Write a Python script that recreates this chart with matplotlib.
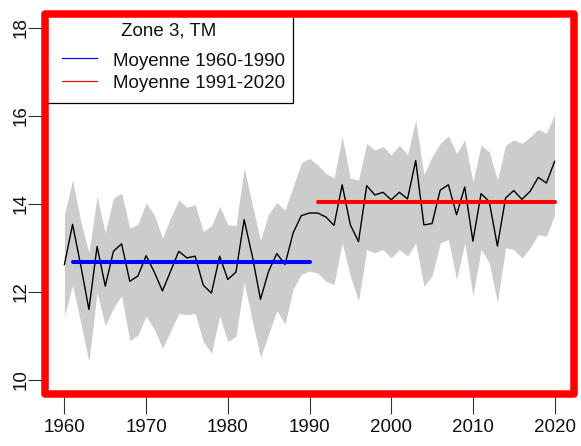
import matplotlib
matplotlib.use("Agg")
import matplotlib.pyplot as plt
from matplotlib.patches import Rectangle
from matplotlib.lines import Line2D
import numpy as np

plt.rcParams['font.family'] = ['Liberation Sans', 'DejaVu Sans']

years = list(range(1960, 2021))
tm = [12.62, 13.53, 12.60, 11.60, 13.03, 12.13, 12.92, 13.09, 12.24, 12.36,
      12.82, 12.45, 12.02, 12.47, 12.92, 12.77, 12.81, 12.15, 11.97, 12.81,
      12.28, 12.45, 13.64, 12.81, 11.83, 12.47, 12.87, 12.62, 13.34, 13.73,
      13.79, 13.79, 13.70, 13.51, 14.43, 13.52, 13.14, 14.41, 14.20, 14.26,
      14.09, 14.26, 14.11, 14.98, 13.52, 13.55, 14.31, 14.43, 13.75, 14.38,
      13.15, 14.23, 14.05, 13.04, 14.13, 14.30, 14.10, 14.28, 14.60, 14.47,
      14.96]
upper = [13.75, 14.54, 13.60, 12.89, 14.17, 13.34, 14.13, 14.24, 13.45, 13.53,
         14.02, 13.75, 13.22, 13.68, 14.09, 13.92, 13.98, 13.37, 13.50, 13.94,
         13.53, 13.50, 14.81, 13.98, 13.17, 13.77, 14.03, 13.85, 14.39, 14.93,
         15.03, 14.88, 14.69, 14.58, 15.52, 14.58, 14.54, 15.37, 15.22, 15.30,
         15.11, 15.33, 15.11, 15.90, 14.66, 15.07, 15.37, 15.54, 15.14, 15.45,
         14.50, 15.33, 15.18, 14.54, 15.33, 15.45, 15.37, 15.52, 15.69, 15.60,
         16.03]
lower = [11.45, 12.15, 11.30, 10.42, 11.98, 11.23, 11.64, 11.91, 10.89, 11.02,
         11.45, 11.15, 10.72, 11.11, 11.51, 11.48, 11.51, 10.87, 10.61, 11.45,
         10.87, 10.99, 12.22, 11.34, 10.51, 11.04, 11.57, 11.27, 12.06, 12.40,
         12.47, 12.43, 12.24, 12.17, 13.11, 12.36, 11.79, 12.96, 12.89, 12.96,
         12.77, 12.96, 12.81, 13.11, 12.13, 12.36, 13.11, 13.19, 12.28, 13.11,
         11.91, 12.96, 12.66, 11.76, 13.00, 12.96, 12.77, 13.00, 13.30, 13.26,
         13.75]
mean1_period = [1961, 1990]
mean1_value = 12.68
mean2_period = [1991, 2020]
mean2_value = 14.05
legend_title = "Zone 3, TM"
legend_labels = ["Moyenne 1960-1990", "Moyenne 1991-2020"]
xticks = [1960, 1970, 1980, 1990, 2000, 2010, 2020]
yticks = [10, 12, 14, 16, 18]

W, H = 581, 446
fig = plt.figure(figsize=(W / 100, H / 100), dpi=100)
fig.patch.set_facecolor('white')

def fx(px):
    return px / W

def fy(py):
    return 1 - py / H

ax_l, ax_r, ax_t, ax_b = 44.8, 574.2, 13.5, 394.0
ax = fig.add_axes([fx(ax_l), fy(ax_b), fx(ax_r - ax_l), (ax_b - ax_t) / H])
ax.set_xlim(1957.6, 2022.4)
ax.set_ylim(9.68, 18.32)

ax.fill_between(years, lower, upper, color='#CCCCCC', linewidth=0, zorder=1)
ax.plot(years, tm, color='black', lw=1.0, zorder=2)
ax.plot(mean1_period, [mean1_value] * 2, color='#0000FF', lw=2.9,
        solid_capstyle='round', zorder=3)
ax.plot(mean2_period, [mean2_value] * 2, color='#FF0000', lw=2.9,
        solid_capstyle='round', zorder=3)

for s in ax.spines.values():
    s.set_visible(False)

ax.set_xticks(xticks)
ax.set_xticklabels([str(v) for v in xticks])
ax.set_yticks(yticks)
ax.set_yticklabels([str(v) for v in yticks], rotation=90, va='center')
ax.tick_params(axis='x', length=14.2, width=0.8, color='#333333',
               labelsize=13.5, pad=4, labelcolor='#111111')
ax.tick_params(axis='y', length=12.2, width=0.8, color='#333333',
               labelsize=13.5, pad=-1.5, labelcolor='#111111')

# red frame
frame = Rectangle((0, 0), 1, 1, transform=ax.transAxes, fill=False,
                  edgecolor='#FF0000', lw=5.4, joinstyle='round',
                  clip_on=False, zorder=10)
ax.add_patch(frame)

# legend box
lx0, lx1, ly0, ly1 = 44.0, 293.0, 13.0, 103.0
leg = Rectangle((fx(lx0), fy(ly1)), fx(lx1 - lx0), (ly1 - ly0) / H,
                transform=fig.transFigure, facecolor='white',
                edgecolor='black', lw=0.9, zorder=5)
ax.add_patch(leg)
leg.set_clip_on(False)

fig.text(fx(169), fy(36), legend_title, ha='center', va='baseline',
         fontsize=13.5, color='#111111', zorder=6)
for lab, col, yl, yb in [(legend_labels[0], '#0000FF', 58.0, 66.5),
                         (legend_labels[1], '#FF0000', 80.5, 88.5)]:
    fig.add_artist(Line2D([fx(62), fx(97)], [fy(yl), fy(yl)],
                          transform=fig.transFigure, color=col, lw=0.9,
                          zorder=6))
    fig.text(fx(113), fy(yb), lab, ha='left', va='baseline',
             fontsize=13.5, color='#111111', zorder=6)

fig.savefig('out.png', dpi=100)
